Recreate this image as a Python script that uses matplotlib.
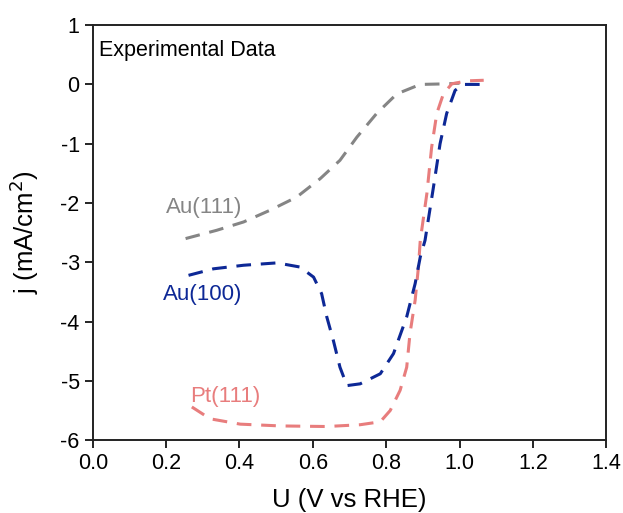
import matplotlib
matplotlib.use("Agg")
import matplotlib.pyplot as plt

plt.rcParams['font.family'] = ['Liberation Sans', 'DejaVu Sans']
plt.rcParams['axes.unicode_minus'] = False

# Au(111)
au111_u = [0.253, 0.338, 0.411, 0.484, 0.556, 0.620, 0.674, 0.720, 0.774, 0.829, 0.893, 0.965, 1.00]
au111_j = [-2.60, -2.46, -2.32, -2.12, -1.90, -1.59, -1.28, -0.89, -0.49, -0.16, 0.0, 0.01, 0.02]

# Au(100)
au100_u = [0.261, 0.329, 0.411, 0.502, 0.565, 0.602, 0.624, 0.638, 0.656, 0.674, 0.693, 0.729,
           0.784, 0.820, 0.856, 0.879, 0.893, 0.906, 0.929, 0.947, 0.965, 0.988, 1.01, 1.066]
au100_j = [-3.22, -3.11, -3.05, -3.01, -3.08, -3.25, -3.53, -3.92, -4.32, -4.77, -5.08, -5.05,
           -4.88, -4.54, -3.92, -3.36, -2.91, -2.63, -1.73, -1.00, -0.49, -0.10, 0.0, 0.0]

# Pt(111)
pt111_u = [0.270, 0.320, 0.402, 0.511, 0.638, 0.729, 0.784, 0.811, 0.838, 0.856, 0.865, 0.879,
           0.888, 0.893, 0.911, 0.924, 0.938, 0.956, 0.979, 1.02, 1.066]
pt111_j = [-5.44, -5.64, -5.73, -5.76, -5.77, -5.74, -5.69, -5.50, -5.16, -4.77, -4.20, -3.64,
           -3.08, -2.63, -1.84, -1.06, -0.49, -0.16, 0.01, 0.06, 0.07]

gray = '#858585'
navy = '#0d2896'
pink = '#e87d7d'

fig = plt.figure(figsize=(6.23, 5.13), dpi=100)
ax = fig.add_axes([0.149, 0.142, 0.824, 0.809])

ls = (0, (4.8, 3.2))
ax.plot(au111_u, au111_j, color=gray, lw=2.2, linestyle=ls)
ax.plot(pt111_u, pt111_j, color=pink, lw=2.2, linestyle=ls)
ax.plot(au100_u, au100_j, color=navy, lw=2.2, linestyle=ls)

ax.text(0.20, -2.08, "Au(111)", color=gray, fontsize=16, va='center')
ax.text(0.19, -3.54, "Au(100)", color=navy, fontsize=16, va='center')
ax.text(0.265, -5.26, "Pt(111)", color=pink, fontsize=16, va='center')
ax.text(0.012, 0.965, "Experimental Data", transform=ax.transAxes, fontsize=15.5, va='top')

ax.set_xlim(0, 1.4)
ax.set_ylim(-6, 1)
ax.set_xticks([0.0, 0.2, 0.4, 0.6, 0.8, 1.0, 1.2, 1.4])
ax.set_yticks(range(-6, 2))
ax.tick_params(direction='out', length=6, width=1.2, labelsize=15.5, top=False, right=False)
for s in ax.spines.values():
    s.set_linewidth(1.4)
    s.set_color('#222222')

ax.set_xlabel("U (V vs RHE)", fontsize=18.5, labelpad=10)
ax.set_ylabel("j (mA/cm$^2$)", fontsize=18.5, labelpad=14)

fig.savefig("out.png", dpi=100)
